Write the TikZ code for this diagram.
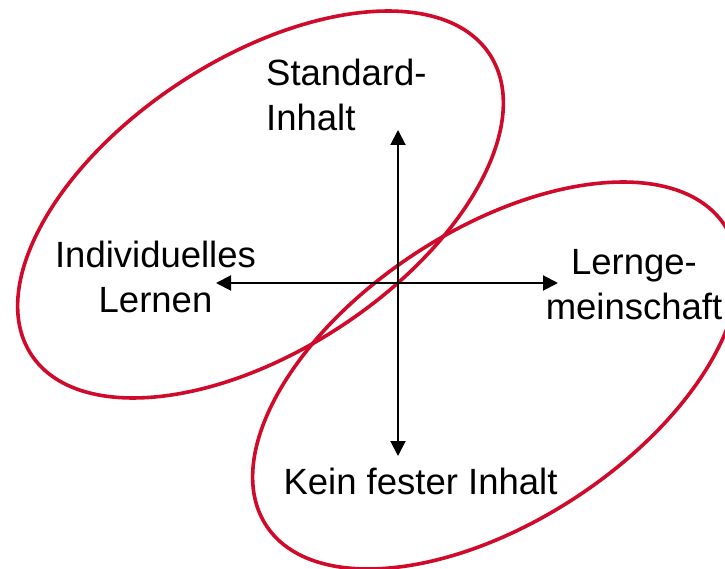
\documentclass[tikz,border=0pt]{standalone}
\usepackage{fontspec}
\setmainfont{Liberation Sans}
\usetikzlibrary{arrows.meta}
\definecolor{ringred}{RGB}{208,10,42}

\begin{document}
\begin{tikzpicture}[>={Triangle[length=15pt, width=15pt]}, x=1pt, y=-1pt,
    ring/.style={draw=ringred, line width=3.6pt},
    axis/.style={->, line width=2pt, black},
    lbl/.style={inner sep=0pt, font=\fontsize{36.5}{45}\selectfont}]
  \useasboundingbox (0,0) rectangle (725,569);
  \clip (0,0) rectangle (725,569);
  % ---------------------------------------------------------------- the two tilted rings
  \draw[ring, shift={(260.5,204.5)}, rotate=33.2] (0,0) ellipse (274 and 146);
  \draw[ring, shift={(495.5,375.5)}, rotate=33.2] (0,0) ellipse (274 and 146);
  % ---------------------------------------------------------------- the cross of axes
  \coordinate (o) at (398,283);
  \coordinate (top) at (398,130);
  \coordinate (bot) at (398,456);
  \coordinate (lft) at (216,283);
  \coordinate (rgt) at (558,283);
  \draw[axis] (o) -- (top);
  \draw[axis] (o) -- (bot);
  \draw[axis] (o) -- (lft);
  \draw[axis] (o) -- (rgt);
  % ---------------------------------------------------------------- the four poles (base = last line)
  \node[lbl, align=left, anchor=base west] (std) at (266,131) {Standard-\\Inhalt};
  \node[lbl, align=center, anchor=base] (ind) at (155.5,312) {Individuelles\\Lernen};
  \node[lbl, align=center, anchor=base] (gem) at (634,319) {Lernge-\\meinschaft};
  \node[lbl, anchor=base] (kein) at (420.5,494) {Kein fester Inhalt};
\end{tikzpicture}
\end{document}
